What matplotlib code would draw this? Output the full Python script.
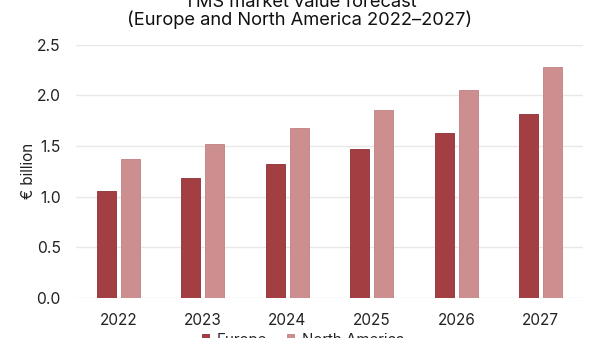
import numpy as np
import matplotlib.pyplot as plt

plt.rcParams['font.family'] = ['Inter', 'DejaVu Sans']

years = ['2022', '2023', '2024', '2025', '2026', '2027']
europe = [1.06, 1.18, 1.32, 1.47, 1.63, 1.82]
north_america = [1.37, 1.52, 1.68, 1.85, 2.05, 2.28]

c_eu = '#a33f42'
c_na = '#cc8e8f'

fig = plt.figure(figsize=(6, 3.38), dpi=100)
ax = fig.add_axes([0.1267, 0.1183, 0.845, 0.7497])

x = np.arange(len(years))
w = 0.224
off = 0.143
ax.bar(x - off, europe, w, color=c_eu, edgecolor='#8e2f33', linewidth=0.6, label='Europe', zorder=3)
ax.bar(x + off, north_america, w, color=c_na, edgecolor='#c07f80', linewidth=0.6, label='North America', zorder=3)

ax.set_xlim(-0.5, 5.5)
ax.set_ylim(0, 2.5)
ax.set_yticks([0.0, 0.5, 1.0, 1.5, 2.0, 2.5])
ax.set_yticklabels(['0.0', '0.5', '1.0', '1.5', '2.0', '2.5'])
ax.set_xticks(x)
ax.set_xticklabels(years)
ax.grid(axis='y', color='#e8e8e8', linewidth=1, zorder=0)
for s in ax.spines.values():
    s.set_visible(False)
ax.tick_params(axis='both', length=0, colors='#222222')
ax.tick_params(axis='y', pad=11, labelsize=11.3)
ax.tick_params(axis='x', pad=11, labelsize=11)
ax.set_ylabel('€ billion', fontsize=11, color='#222222', labelpad=0)

fig.text(0.5, 0.980, 'TMS market value forecast', ha='center', va='baseline', fontsize=13.2, color='#111111')
fig.text(0.5, 0.926, '(Europe and North America 2022–2027)', ha='center', va='baseline', fontsize=13.2, color='#111111')

fig.legend(loc='center', bbox_to_anchor=(0.505, -0.005), ncol=2, frameon=False,
           fontsize=10.8, handlelength=0.5, handleheight=0.5, handletextpad=0.5,
           columnspacing=1.3, labelcolor='#222222')

fig.savefig('out.png', dpi=100)
